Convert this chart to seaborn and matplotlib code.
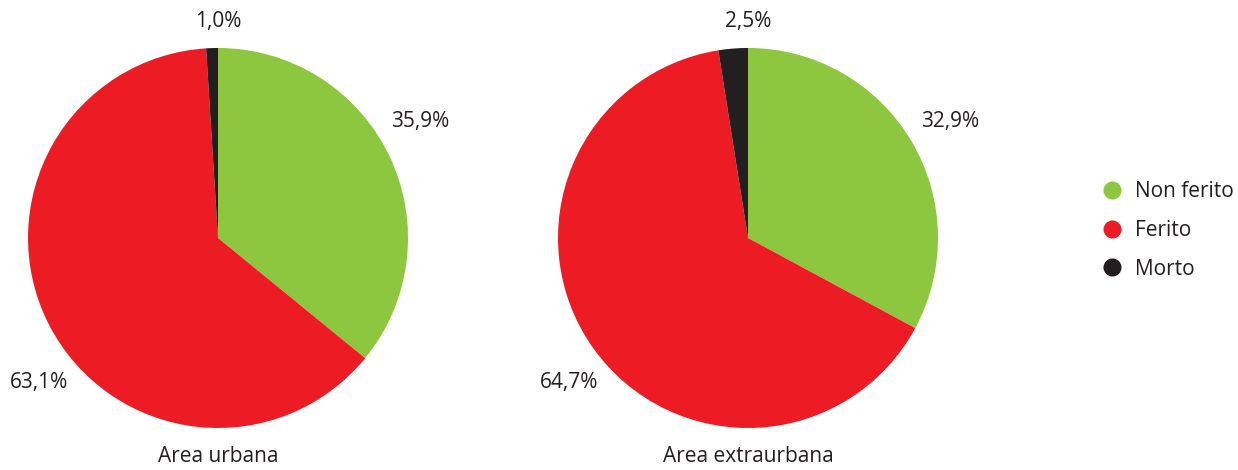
import numpy as np
import matplotlib.pyplot as plt
import seaborn as sns
from matplotlib.lines import Line2D

categories = ['Non ferito', 'Ferito', 'Morto']
areas = ['Area urbana', 'Area extraurbana']
urbana = [35.9, 63.1, 1.0]
extraurbana = [32.9, 64.7, 2.5]
colors = ['#8DC63F', '#ED1C24', '#231F20']

# label placement (angle in degrees, distance in radii) per category
label_pos = [(30, 1.23), (219, 1.21), (90, 1.14)]

sns.set_theme(style="white")
plt.rcParams['font.family'] = ['Open Sans', 'DejaVu Sans']

fig = plt.figure(figsize=(12.38, 4.70), dpi=100)

def fmt(v):
  return f'{v:.1f}%'.replace('.', ',')

lefts = [0.0226, 0.4507]
for left, title, values in zip(lefts, areas, [urbana, extraurbana]):
  ax = fig.add_axes([left, 0.0894, 0.307, 0.8085])
  wedges, texts = ax.pie(values,
                         colors=colors,
                         startangle=90,
                         counterclock=False,
                         labels=[fmt(v) for v in values],
                         textprops={'fontsize': 15, 'color': '#231F20'},
                         wedgeprops={'linewidth': 0})
  for t, (ang, dist) in zip(texts, label_pos):
    a = np.deg2rad(ang)
    t.set_position((dist * np.cos(a), dist * np.sin(a)))
    t.set_ha('center')
    t.set_va('center')
  ax.set_xlim(-1, 1)
  ax.set_ylim(-1, 1)
  ax.set_aspect('equal')
  ax.axis('off')
  ax.text(0.5, -0.076, title, transform=ax.transAxes, ha='center', va='center',
          fontsize=15, color='#231F20')

handles = [Line2D([0], [0], marker='o', linestyle='', markersize=13,
                  markerfacecolor=c, markeredgewidth=0) for c in colors]
fig.legend(handles, categories, loc='center left', bbox_to_anchor=(0.875, 0.51),
           frameon=False, fontsize=15, labelspacing=0.85, handletextpad=0.6,
           handlelength=1.0, labelcolor='#231F20')

plt.savefig('out.png', dpi=100)
